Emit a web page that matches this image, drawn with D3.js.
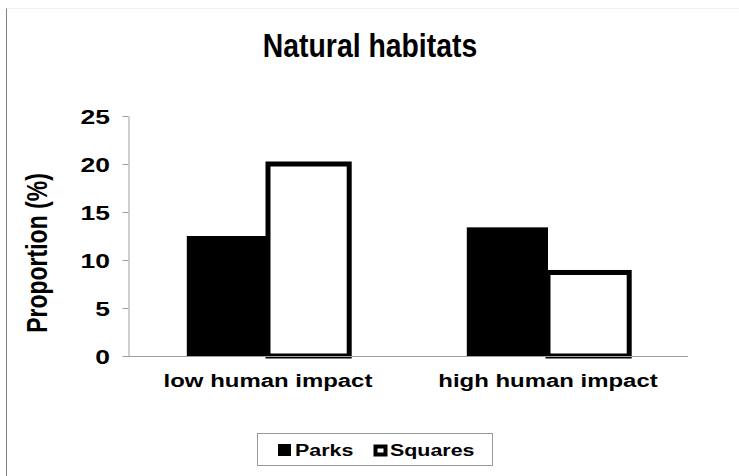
<!DOCTYPE html>
<html>
<head>
<meta charset="utf-8">
<script src="https://cdn.jsdelivr.net/npm/d3@7"></script>
<style>
  body { margin: 0; background: #fff; }
  svg text { font-family: "Liberation Sans", Arial, sans-serif; font-weight: bold; fill: #000; }
</style>
</head>
<body>
<div id="chart"></div>
<script>
// Chart data
const categories = ['low human impact', 'high human impact'];
const seriesNames = ['Parks', 'Squares'];
const parksValues = [12.5, 13.4];
const squaresValues = [20, 8.7];
const yTicks = [0, 5, 10, 15, 20, 25];

const width = 739;
const height = 476;
// the original picture is stretched sideways, so text gets a horizontal scale
const SX = 1.26;

const svg = d3.select('#chart')
    .append('svg')
    .attr('width', width)
    .attr('height', height);

// outer chart frame (left edge + faint top edge)
svg.append('line')
    .attr('x1', 6.5).attr('x2', 6.5)
    .attr('y1', 8).attr('y2', height)
    .attr('stroke', '#808080');
svg.append('line')
    .attr('x1', 6.5).attr('x2', width)
    .attr('y1', 8.5).attr('y2', 8.5)
    .attr('stroke', '#f0f0f0');

// helper for stretched text
function stretchedText(x, y, str, size, anchor, sx, rotate) {
    return svg.append('text')
        .attr('transform', `translate(${x},${y}) scale(${sx},1)` + (rotate ? ` rotate(${rotate})` : ''))
        .attr('text-anchor', anchor)
        .style('font-size', size + 'px')
        .text(str);
}

// Title
stretchedText(370, 57, 'Natural habitats', 33, 'middle', 0.86);

// Scales
const x0 = d3.scaleBand()
    .domain(categories)
    .range([128, 688])
    .paddingInner(0.42)
    .paddingOuter(0.21);

const x1 = d3.scaleBand()
    .domain(seriesNames)
    .range([0, x0.bandwidth()]);

const y = d3.scaleLinear()
    .domain([0, 25])
    .range([356, 116]);

// Bars
const rows = categories.map((c, i) => ({ cat: c, Parks: parksValues[i], Squares: squaresValues[i] }));

const groups = svg.selectAll('.group')
    .data(rows)
    .join('g')
    .attr('class', 'group')
    .attr('transform', d => `translate(${x0(d.cat)},0)`);

groups.append('rect')
    .attr('x', x1('Parks'))
    .attr('y', d => y(d.Parks))
    .attr('width', x1.bandwidth())
    .attr('height', d => y(0) - y(d.Parks))
    .attr('fill', '#000');

groups.append('rect')
    .attr('x', x1('Squares'))
    .attr('y', d => y(d.Squares))
    .attr('width', x1.bandwidth())
    .attr('height', d => y(0) - y(d.Squares))
    .attr('fill', '#fff')
    .attr('stroke', '#000')
    .attr('stroke-width', 5);

// Y axis
const yAxis = svg.append('g')
    .attr('transform', 'translate(128.5,0)')
    .call(d3.axisLeft(y).tickValues(yTicks).tickSize(6).tickSizeOuter(0).tickFormat(d3.format('d')));
yAxis.select('.domain').attr('stroke', '#a0a0a0');
yAxis.selectAll('.tick line').attr('stroke', '#a0a0a0');
yAxis.selectAll('.tick text').remove();

yTicks.forEach(t => {
    stretchedText(110, y(t) + 7.5, String(t), 21, 'end', SX);
});

// X axis baseline
svg.append('line')
    .attr('x1', 128).attr('x2', 688)
    .attr('y1', y(0) + 0.5).attr('y2', y(0) + 0.5)
    .attr('stroke', '#a0a0a0');

// Category labels
categories.forEach(c => {
    stretchedText(x0(c) + x0.bandwidth() / 2, 387, c, 19, 'middle', SX);
});

// Y axis title
stretchedText(47, 253, 'Proportion (%)', 23, 'middle', SX, -90);

// Legend
svg.append('rect')
    .attr('x', 257.5).attr('y', 433.5)
    .attr('width', 235).attr('height', 32)
    .attr('fill', '#fff')
    .attr('stroke', '#999');

svg.append('rect')
    .attr('x', 278).attr('y', 444)
    .attr('width', 13).attr('height', 12)
    .attr('fill', '#000');
stretchedText(295, 456, seriesNames[0], 17, 'start', SX);

svg.append('rect')
    .attr('x', 375.5).attr('y', 446.5)
    .attr('width', 10).attr('height', 8)
    .attr('fill', '#fff')
    .attr('stroke', '#000')
    .attr('stroke-width', 4);
stretchedText(390, 456, seriesNames[1], 17, 'start', SX);
</script>
</body>
</html>
